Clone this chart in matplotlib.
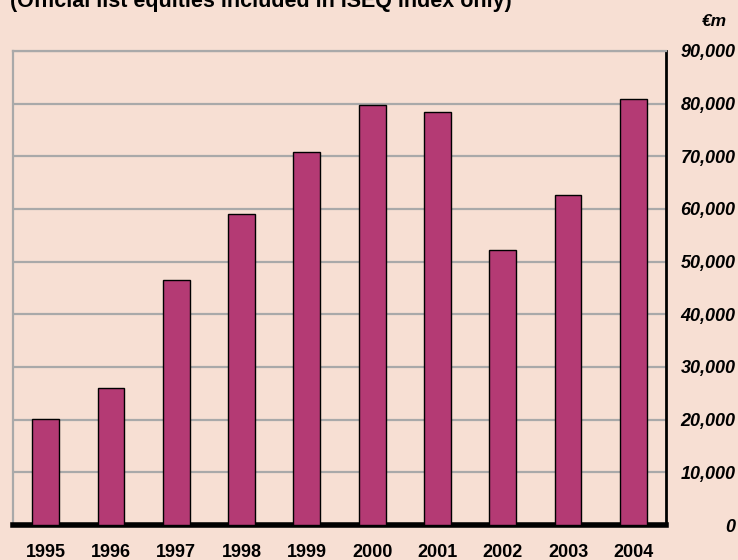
import matplotlib.pyplot as plt
import numpy as np

years = ['1995', '1996', '1997', '1998', '1999', '2000', '2001', '2002', '2003', '2004']
values = [20200, 26000, 46600, 59000, 70800, 79800, 78500, 52200, 62600, 80900]
yticks = [0, 10000, 20000, 30000, 40000, 50000, 60000, 70000, 80000, 90000]
ytick_labels = ['0', '10,000', '20,000', '30,000', '40,000', '50,000',
                '60,000', '70,000', '80,000', '90,000']

bg = '#F7DFD3'
bar_col = '#B43A74'
grid_col = '#A9A9A9'

plt.rcParams['font.family'] = ['Liberation Sans', 'DejaVu Sans']

fig = plt.figure(figsize=(7.38, 5.6), dpi=100, facecolor=bg)
W, H = 738, 560
ax = fig.add_axes([13 / W, (H - 525) / H, (666 - 13) / W, (525 - 51) / H])
ax.set_facecolor(bg)

x = np.arange(len(years))
ax.bar(x, values, width=0.41, color=bar_col, edgecolor='black', linewidth=1.0, zorder=3)

ax.set_xlim(-0.5, 9.5)
ax.set_ylim(0, 90000)
ax.set_yticks(yticks)
ax.yaxis.grid(True, color=grid_col, linewidth=1.6, zorder=0)
ax.set_axisbelow(True)

ax.yaxis.tick_right()
ax.set_yticklabels(ytick_labels, fontsize=13, fontweight='bold', fontstyle='italic', ha='right')
ax.tick_params(axis='y', length=0, pad=50)

ax.set_xticks(x)
ax.set_xticklabels(years, fontsize=13, fontweight='bold')
ax.tick_params(axis='x', length=0, pad=14)

ax.spines['top'].set_color(grid_col)
ax.spines['top'].set_linewidth(1.6)
ax.spines['left'].set_color(grid_col)
ax.spines['left'].set_linewidth(1.6)
ax.spines['right'].set_color('black')
ax.spines['right'].set_linewidth(2)
ax.spines['bottom'].set_color('black')
ax.spines['bottom'].set_linewidth(4)

# title line is cut off at the top edge, as in the source
fig.text(10 / W, 1 - 1 / H, '(Official list equities included in ISEQ index only)',
         fontsize=15.5, fontweight='bold', va='center', ha='left')
fig.text(727 / W, 1 - 22 / H, '€m', fontsize=12.5, fontweight='bold', fontstyle='italic',
         va='center', ha='right')

fig.savefig('out.png', dpi=100, facecolor=bg)
